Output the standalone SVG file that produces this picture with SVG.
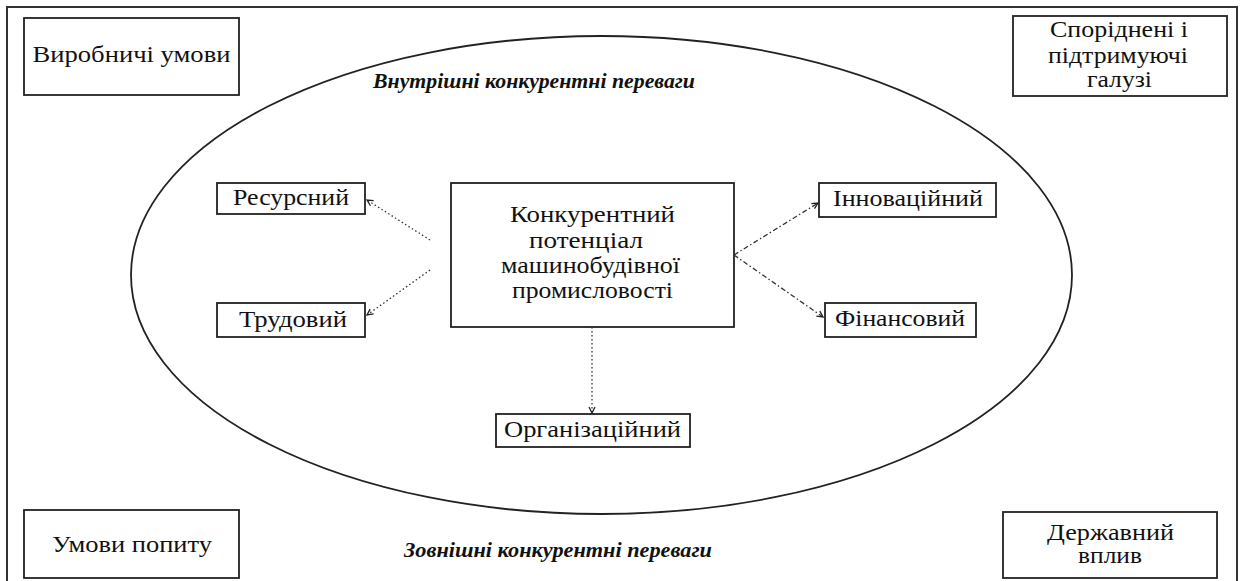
<svg xmlns="http://www.w3.org/2000/svg" width="1247" height="581" viewBox="0 0 1247 581">
<defs>
<style>
.box{fill:#fff;stroke:#222;stroke-width:1.8}
.t{font-family:"Liberation Serif","Times New Roman",serif;font-size:23px;fill:#111;text-anchor:middle}
.h{font-family:"Liberation Serif","Times New Roman",serif;font-size:22px;font-weight:bold;font-style:italic;fill:#111;text-anchor:middle}
.c{fill:none;stroke:#333;stroke-width:1.3;stroke-dasharray:1.5 2.5}
.cd{fill:none;stroke:#333;stroke-width:1.3;stroke-dasharray:5 2.5 1.5 2.5}
</style>
<marker id="arr" viewBox="0 0 8 8" refX="7" refY="4" markerWidth="8" markerHeight="8" markerUnits="userSpaceOnUse" orient="auto">
<path d="M1,1 L7,4 L1,7" fill="none" stroke="#222" stroke-width="1.3"/>
</marker>
</defs>
<rect width="1247" height="581" fill="#fff"/>
<path d="M7,590 V7 H1237 V590" fill="none" stroke="#333" stroke-width="2"/>
<g id="ellipse">
<ellipse cx="601.5" cy="275" rx="470.5" ry="239" fill="none" stroke="#222" stroke-width="1.8"/>
<text class="h" x="534" y="88" textLength="322" lengthAdjust="spacingAndGlyphs">Внутрішні конкурентні переваги</text>
<text class="h" x="558" y="557" textLength="308" lengthAdjust="spacingAndGlyphs">Зовнішні конкурентні переваги</text>
</g>
<g id="vyrobnychi">
<rect class="box" x="24" y="18" width="215" height="77"/>
<text class="t" x="131.5" y="62" textLength="198" lengthAdjust="spacingAndGlyphs">Виробничі умови</text>
</g>
<g id="sporidneni">
<rect class="box" x="1013" y="16" width="214" height="80"/>
<text class="t" x="1119" y="37" textLength="138" lengthAdjust="spacingAndGlyphs">Споріднені і</text>
<text class="t" x="1118" y="63" textLength="140" lengthAdjust="spacingAndGlyphs">підтримуючі</text>
<text class="t" x="1119.5" y="87" textLength="65" lengthAdjust="spacingAndGlyphs">галузі</text>
</g>
<g id="umovy">
<rect class="box" x="24" y="510" width="215" height="68"/>
<text class="t" x="132" y="552" textLength="160" lengthAdjust="spacingAndGlyphs">Умови попиту</text>
</g>
<g id="derzhavnyi">
<rect class="box" x="1003" y="512" width="214" height="66"/>
<text class="t" x="1110.5" y="540" textLength="127" lengthAdjust="spacingAndGlyphs">Державний</text>
<text class="t" x="1110" y="563" textLength="64" lengthAdjust="spacingAndGlyphs">вплив</text>
</g>
<g id="center">
<rect class="box" x="451" y="183" width="283" height="144"/>
<text class="t" x="592.5" y="222" textLength="165" lengthAdjust="spacingAndGlyphs">Конкурентний</text>
<text class="t" x="586" y="248" textLength="114" lengthAdjust="spacingAndGlyphs">потенціал</text>
<text class="t" x="590.5" y="273" textLength="179" lengthAdjust="spacingAndGlyphs">машинобудівної</text>
<text class="t" x="592.5" y="298" textLength="161" lengthAdjust="spacingAndGlyphs">промисловості</text>
</g>
<g id="resursnyi">
<rect class="box" x="217" y="183" width="148" height="31"/>
<text class="t" x="291" y="205" textLength="116" lengthAdjust="spacingAndGlyphs">Ресурсний</text>
</g>
<g id="trudovyi">
<rect class="box" x="217" y="303" width="148" height="34"/>
<text class="t" x="293" y="327" textLength="108" lengthAdjust="spacingAndGlyphs">Трудовий</text>
</g>
<g id="innovatsiinyi">
<rect class="box" x="819" y="183" width="177" height="34"/>
<text class="t" x="908" y="206" textLength="150" lengthAdjust="spacingAndGlyphs">Інноваційний</text>
</g>
<g id="finansovyi">
<rect class="box" x="825" y="303" width="151" height="34"/>
<text class="t" x="900" y="326" textLength="130" lengthAdjust="spacingAndGlyphs">Фінансовий</text>
</g>
<g id="orhanizatsiinyi">
<rect class="box" x="496" y="414" width="194" height="33"/>
<text class="t" x="592.5" y="437" textLength="177" lengthAdjust="spacingAndGlyphs">Організаційний</text>
</g>
<g id="connectors">
<path class="c" d="M430,240 L367,200" marker-end="url(#arr)"/>
<path class="c" d="M430,270 L367,315" marker-end="url(#arr)"/>
<path class="cd" d="M734,255 L818,203" marker-end="url(#arr)"/>
<path class="cd" d="M734,255 L823,317" marker-end="url(#arr)"/>
<path class="c" d="M592,327 L592,413" marker-end="url(#arr)"/>
</g>
</svg>
